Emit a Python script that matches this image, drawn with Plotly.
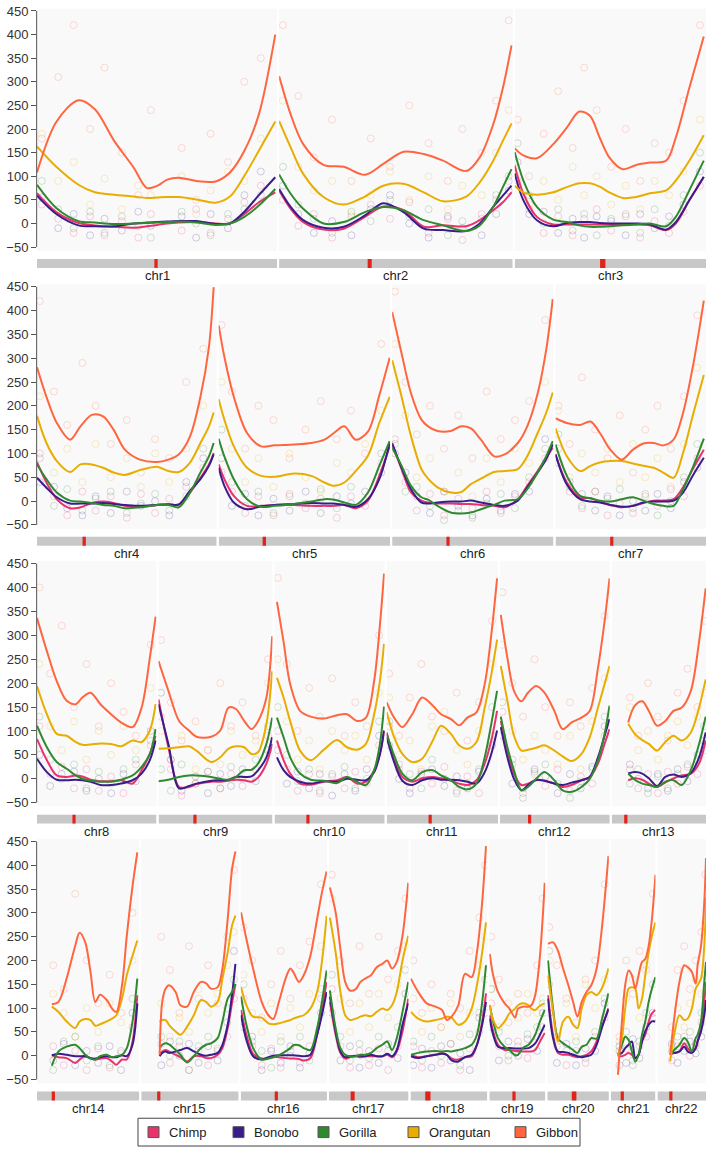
import plotly.graph_objects as go

CHROMS = ["chr%d" % i for i in range(1, 23)]
CHROM_LEN = [248.9, 242.2, 198.3, 190.2, 181.5, 170.8, 159.3, 145.1, 138.4, 133.8, 135.1,
             133.3, 114.4, 107.0, 102.0, 90.3, 83.3, 80.4, 58.6, 64.4, 46.7, 50.8]
CEN_START = [121.7, 91.8, 88.5, 48.2, 46.5, 58.5, 58.1, 44.0, 43.0, 39.6, 51.1,
             34.7, 16.0, 16.0, 17.0, 36.3, 22.7, 15.4, 24.4, 25.6, 10.9, 12.9]
CEN_END = [125.1, 96.0, 94.0, 51.7, 50.1, 59.8, 61.0, 45.9, 45.5, 41.6, 54.4,
           37.2, 18.1, 18.2, 19.7, 38.3, 26.9, 20.9, 27.2, 30.4, 13.0, 15.1]
ROWS = [[0, 1, 2], [3, 4, 5, 6], [7, 8, 9, 10, 11, 12], [13, 14, 15, 16, 17, 18, 19, 20, 21]]

# ---------------- smoothed curves ----------------
POS = [
    [0, 20, 43, 60, 80, 100, 114, 125, 135, 147, 165, 185, 200, 215, 230, 247],
    [0, 12, 25, 46, 67, 89, 108, 129, 150, 170, 194, 208, 222, 232, 241],
    [0, 9, 23, 40, 54, 67, 78, 88, 98, 112, 126, 140, 157, 167, 181, 196],
    [0, 10, 21, 35, 46, 58, 70, 81, 93, 109, 127, 139, 150, 162, 173, 182, 187],
    [0, 6, 16, 30, 45, 59, 80, 98, 112, 122, 133, 145, 158, 170, 181],
    [0, 10, 20, 31, 38, 48, 62, 73, 83, 94, 108, 119, 133, 143, 154, 163, 170],
    [0, 12, 26, 37, 47, 58, 70, 82, 93, 104, 114, 125, 135, 146, 157],
    [0, 12, 24, 36, 47, 55, 65, 77, 90, 102, 116, 127, 137, 144],
    [0, 12, 25, 37, 46, 64, 75, 85, 94, 104, 113, 121, 131, 138],
    [3, 11, 19, 31, 44, 60, 76, 88, 100, 111, 121, 128, 133],
    [0, 9, 19, 31, 43, 56, 66, 78, 88, 98, 109, 119, 127, 134],
    [1, 9, 17, 26, 34, 44, 54, 66, 76, 87, 99, 109, 119, 127, 133],
    [20, 28, 37, 45, 55, 65, 75, 85, 96, 106, 114],
    [15.5, 22.5, 31, 40, 44.6, 50.5, 56, 61, 66, 73, 78.6, 83, 89, 94, 100, 105],
    [19.3, 22, 25.6, 29, 36, 41, 48, 55, 62.5, 68, 73, 80, 85, 90.5, 95, 98.6],
    [0.4, 6, 13, 22, 29, 34, 40, 47, 52, 55, 61, 66, 73, 80, 85, 90],
    [1, 7, 12, 17, 22, 28, 33, 38, 44, 50, 56, 61, 66, 71, 77, 83],
    [0.4, 8, 17, 26, 33, 38, 43, 50, 57, 64, 69.5, 75, 79],
    [0.4, 4, 9, 16, 21, 27, 30, 35, 41, 44, 48, 53, 58],
    [0.7, 6, 11, 16.5, 22, 27, 31.6, 36, 41, 46, 51.6, 57, 64],
    [7.4, 11.6, 15, 18.6, 22, 25.6, 29, 32.6, 36, 39.6, 43, 46.7],
    [13.3, 17.5, 23, 28, 31.6, 36, 40, 42, 45.6, 49, 50.8],
]

GIBBON = [
    [108, 215, 261, 242, 175, 119, 75, 80, 93, 97, 90, 89, 108, 154, 231, 400],
    [312, 231, 168, 124, 120, 103, 126, 152, 147, 133, 111, 140, 210, 287, 377],
    [159, 144, 138, 168, 203, 237, 228, 182, 140, 115, 124, 129, 133, 182, 287, 396],
    [281, 219, 164, 129, 157, 181, 178, 150, 108, 87, 82, 87, 98, 136, 219, 324, 449],
    [369, 303, 219, 143, 115, 117, 119, 122, 129, 143, 157, 129, 146, 222, 301],
    [397, 310, 226, 171, 157, 147, 147, 157, 153, 129, 94, 98, 122, 157, 226, 317, 424],
    [174, 164, 160, 167, 143, 108, 87, 108, 121, 122, 117, 129, 185, 289, 421],
    [336, 267, 204, 163, 156, 170, 180, 156, 135, 118, 108, 149, 253, 339],
    [246, 184, 121, 101, 88, 88, 101, 149, 146, 121, 104, 121, 170, 298],
    [370, 287, 198, 142, 130, 126, 133, 135, 121, 128, 205, 322, 429],
    [160, 128, 108, 135, 170, 153, 135, 125, 112, 128, 139, 198, 301, 419],
    [343, 253, 184, 162, 180, 194, 180, 142, 104, 118, 128, 142, 232, 329, 419],
    [118, 153, 162, 142, 111, 121, 142, 149, 184, 287, 398],
    [108, 113, 162, 231, 258, 238, 176, 113, 128, 117, 99, 92, 148, 252, 356, 427],
    [2, 113, 141, 148, 134, 106, 103, 134, 155, 152, 141, 144, 183, 287, 391, 429],
    [301, 245, 183, 113, 85, 77, 113, 162, 183, 176, 155, 169, 210, 287, 342, 387],
    [353, 301, 224, 155, 137, 140, 155, 162, 169, 186, 193, 200, 183, 197, 252, 363],
    [162, 134, 110, 103, 96, 75, 82, 106, 172, 165, 217, 322, 440],
    [214, 169, 134, 110, 99, 80, 99, 103, 103, 106, 127, 210, 363],
    [235, 238, 221, 183, 148, 113, 82, 113, 134, 148, 183, 266, 419],
    [-40, 72, 148, 179, 169, 141, 169, 197, 203, 231, 287, 380],
    [2, 78, 155, 190, 186, 176, 151, 190, 231, 322, 415],
]

ORANGUTAN = [
    [163, 120, 82, 66, 61, 57, 54, 55, 56, 56, 51, 44, 57, 101, 154, 216],
    [217, 161, 105, 56, 40, 57, 80, 84, 66, 47, 57, 87, 133, 175, 212],
    [80, 66, 61, 66, 77, 85, 85, 78, 66, 54, 56, 64, 70, 91, 133, 187],
    [179, 122, 84, 61, 77, 77, 70, 60, 55, 65, 72, 63, 61, 81, 122, 157, 186],
    [214, 171, 115, 70, 53, 51, 58, 53, 39, 32, 39, 63, 95, 164, 219],
    [296, 219, 136, 67, 47, 29, 18, 19, 35, 47, 61, 63, 67, 94, 143, 185, 228],
    [153, 94, 63, 74, 81, 84, 84, 79, 74, 70, 60, 49, 101, 185, 265],
    [194, 135, 94, 90, 77, 71, 72, 74, 73, 68, 80, 77, 101, 156],
    [63, 64, 66, 68, 59, 35, 45, 63, 68, 66, 52, 56, 115, 225],
    [211, 170, 121, 59, 39, 61, 81, 66, 61, 73, 135, 205, 282],
    [139, 87, 52, 35, 42, 80, 111, 94, 70, 63, 77, 149, 218, 291],
    [236, 163, 90, 59, 61, 65, 70, 59, 47, 37, 52, 87, 149, 198, 236],
    [115, 94, 81, 73, 59, 77, 90, 80, 97, 149, 208],
    [103, 92, 72, 58, 72, 77, 75, 63, 66, 72, 78, 85, 120, 169, 210, 242],
    [71, 75, 75, 65, 51, 44, 61, 85, 117, 113, 103, 113, 162, 217, 273, 294],
    [144, 106, 82, 80, 68, 66, 68, 72, 75, 78, 82, 85, 99, 134, 197, 294],
    [290, 217, 134, 85, 75, 78, 82, 85, 83, 92, 99, 96, 106, 134, 200, 252],
    [92, 78, 72, 75, 78, 82, 80, 65, 72, 99, 148, 217, 280],
    [106, 75, 58, 72, 89, 99, 106, 110, 106, 99, 96, 105, 110],
    [169, 92, 30, 72, 82, 65, 58, 99, 127, 134, 127, 141, 183],
    [-1, 37, 99, 141, 144, 141, 99, 120, 169, 217, 252, 280],
    [-12, 44, 85, 75, 78, 99, 141, 148, 162, 231, 332],
]

GORILLA = [
    [82, 33, 5, 2, -1, 0, 1, 2, 3, 4, 2, -3, 0, 14, 38, 73],
    [104, 63, 31, 0, 3, 24, 35, 28, 7, -4, -16, -4, 35, 77, 115],
    [151, 91, 35, 8, 3, -4, -7, -7, -6, -4, -2, 0, -6, 14, 70, 133],
    [77, 46, 18, 1, -1, -4, -8, -10, -15, -13, -8, -8, -13, 18, 60, 94, 122],
    [131, 94, 46, 4, -12, -10, -6, -1, 4, 3, -3, -8, 18, 74, 126],
    [112, 74, 32, 8, 3, -10, -24, -26, -24, -17, -8, 1, 4, 25, 60, 94, 126],
    [119, 53, 11, 6, 1, -1, 4, 8, 1, -6, -10, -10, 25, 74, 131],
    [111, 66, 35, 21, 7, 0, -4, -6, -6, -2, 7, 25, 52, 104],
    [-5, -2, 4, 7, 7, 4, 0, -2, 4, 18, 19, 32, 73, 128],
    [128, 87, 45, 11, -2, -4, -9, 4, -6, -13, 18, 73, 151],
    [94, 49, 11, -3, 14, 18, 7, -3, -17, -22, -10, 45, 115, 184],
    [130, 66, 18, -24, -17, 0, 14, -3, -24, -27, -17, 0, 39, 94, 153],
    [11, -2, -10, -13, -17, -6, -3, -13, 18, 73, 130],
    [-21, 9, 19, 23, 16, 2, -6, -8, -1, 2, -3, -1, 2, 16, 72, 162],
    [16, 23, 26, 24, 12, 2, -14, -1, 16, 23, 26, 37, 72, 120, 134, 151],
    [124, 65, 16, -8, -6, -3, 1, 9, 16, 22, 22, 16, 12, 58, 113, 179],
    [137, 58, 16, 2, -1, -1, 2, 2, 6, 16, 23, 30, 12, 37, 92, 155],
    [2, 6, 9, 10, 9, 10, 9, 12, 16, 23, 44, 113, 190],
    [106, 72, 37, 19, 12, 1, 2, 16, 23, 30, 44, 72, 96],
    [200, 99, 37, 26, 19, 12, 6, 19, 23, 37, 36, 75, 131],
    [2, 23, 40, 33, 9, -12, 2, 44, 72, 113, 141, 165],
    [2, 12, 23, 37, 30, 9, 37, 44, 72, 155, 197],
]

CHIMP = [
    [64, 24, 1, -4, -7, -9, -6, -3, 0, 2, 3, 0, 0, 20, 45, 66],
    [70, 31, 3, -13, -11, 14, 36, 28, -7, -4, -6, 7, 28, 45, 66],
    [122, 63, 14, -2, -2, -2, -2, -2, -2, -2, -2, -4, -14, 0, 49, 98],
    [82, 39, 4, -15, -13, -4, -1, -4, -10, -12, -8, -6, -8, 18, 49, 77, 101],
    [77, 46, 11, -10, -10, -8, -8, -10, -10, -10, -8, -15, 1, 53, 115],
    [119, 67, 18, 1, -3, -5, -5, -6, -6, -8, -10, -13, 4, 32, 63, 91, 112],
    [98, 39, 8, 6, -1, -8, -13, -10, -4, 1, 1, 4, 29, 70, 108],
    [83, 39, 7, 4, 7, 5, -2, -5, -5, -3, -10, 18, 52, 90],
    [166, 66, -17, -17, -11, -6, -6, -4, -2, -3, -6, 3, 32, 73],
    [80, 39, 11, -10, -12, -6, -3, 4, -10, -6, 18, 52, 99],
    [97, 39, 4, -6, 1, 4, 1, -4, -10, -13, -3, 32, 80, 142],
    [121, 59, 11, -13, -10, -3, -4, -10, -17, -13, -3, 4, 32, 73, 104],
    [-3, 1, -2, -10, -17, -8, 1, 7, 11, 32, 80],
    [1, -3, -5, -15, -8, -1, -5, -8, -6, -5, -12, -19, -8, -8, 30, 127],
    [2, 9, 12, 9, 2, -3, -12, -1, -1, -5, -5, 2, 16, 58, 110, 150],
    [96, 44, 4, -6, -5, -3, -3, -5, -6, -6, -7, -10, -5, 44, 99, 155],
    [113, 44, 6, -6, -3, -1, -3, -1, -1, -1, -1, 2, -3, 9, 51, 120],
    [1, -3, -1, 2, 6, 2, -6, -8, -3, -1, 23, 72, 131],
    [85, 51, 23, 12, 12, 10, 10, 9, 9, 9, 12, 30, 48],
    [127, 44, 6, 2, 2, -1, -3, -1, 2, 9, 30, 61, 96],
    [-1, -1, 2, 6, 2, -5, 2, 30, 44, 72, 89, 96],
    [2, 6, 9, 26, 16, 8, 16, 30, 58, 113, 155],
]

BONOBO = [
    [59, 20, -4, -6, -6, 0, 2, 3, 4, 5, 5, -1, 0, 25, 60, 98],
    [73, 35, 7, -9, -7, 17, 43, 24, -11, -14, -16, 0, 35, 59, 80],
    [106, 49, 7, -6, 1, 3, 3, 1, 0, 0, 0, -2, -13, 3, 49, 99],
    [49, 28, 8, -5, -5, -5, -4, -6, -8, -10, -8, -7, -7, 22, 46, 74, 98],
    [70, 32, -3, -17, -11, -8, -6, -4, -5, -5, -8, -12, 4, 46, 122],
    [122, 70, 25, -3, -5, -3, -1, -1, 1, -3, -8, -10, 1, 29, 60, 88, 119],
    [98, 35, 4, -1, -3, -8, -12, -10, -3, -1, -1, 1, 18, 56, 91],
    [42, 14, -2, -3, -2, -3, -6, -13, -13, -10, -3, 11, 39, 80],
    [156, 73, -20, -15, -10, -4, -3, -2, 4, 4, 5, 18, 45, 87],
    [45, 18, 4, -6, -10, -5, -6, 0, -2, -3, 14, 52, 101],
    [87, 35, -4, -13, -3, 1, -2, -2, -3, -6, -10, 14, 52, 101],
    [108, 45, 0, -24, -13, -2, -4, -10, -13, -8, -3, 4, 45, 90, 125],
    [11, 14, 11, 1, -15, 4, 9, 4, 12, 45, 97],
    [1, 4, 2, -1, -1, -1, -5, -6, -3, -1, -3, -3, 1, -1, 23, 110],
    [-1, 6, 9, 6, 9, 12, 16, 9, 2, 0, 2, 6, 23, 65, 127, 193],
    [85, 33, -1, -8, -3, 0, 1, 1, 1, 1, 0, -1, 2, 44, 85, 134],
    [124, 51, 9, -3, -1, 0, 0, -1, 2, -1, -1, 4, -1, 12, 65, 110],
    [-1, -5, -1, 2, 4, 2, -10, -12, -3, 2, 23, 65, 113],
    [78, 44, 19, 16, 16, 15, 15, 15, 16, 19, 26, 44, 65],
    [120, 37, 9, 8, 6, 2, -1, -3, -1, 2, 23, 58, 99],
    [2, 6, 16, 23, 30, -5, 2, 30, 51, 65, 72, 72],
    [12, 6, 9, 19, 9, 6, 16, 30, 51, 85, 117],
]

# ---------------- per-window points (faint circles) ----------------
PT_X = [
    [5, 22, 38, 55, 70, 88, 105, 118, 150, 165, 180, 198, 215, 232],
    [4, 20, 36, 55, 75, 95, 115, 135, 155, 175, 190, 210, 225, 238],
    [3, 15, 30, 45, 60, 72, 85, 100, 115, 130, 145, 160, 175, 192],
    [3, 18, 32, 48, 62, 78, 95, 110, 125, 140, 158, 176],
    [3, 14, 28, 42, 58, 75, 92, 108, 125, 140, 155, 172],
    [3, 14, 26, 40, 55, 70, 85, 100, 115, 130, 145, 162],
    [3, 15, 28, 42, 55, 68, 82, 95, 108, 122, 136, 150],
    [3, 16, 30, 45, 60, 75, 90, 105, 120, 138],
    [3, 15, 28, 45, 60, 75, 88, 102, 118, 133],
    [4, 15, 28, 42, 55, 70, 85, 98, 112, 127],
    [3, 15, 28, 42, 55, 70, 85, 98, 112, 128],
    [3, 15, 28, 42, 55, 70, 85, 98, 112, 127],
    [22, 32, 44, 56, 68, 80, 92, 104, 112],
    [17, 28, 40, 52, 64, 76, 88, 100],
    [21, 30, 40, 50, 60, 70, 80, 90, 97],
    [3, 12, 22, 32, 42, 52, 62, 72, 84],
    [3, 12, 22, 32, 42, 52, 62, 72, 80],
    [3, 12, 22, 32, 42, 52, 62, 72, 78],
    [2, 10, 20, 30, 40, 50, 56],
    [2, 10, 20, 30, 40, 50, 60],
    [9, 16, 23, 30, 37, 44],
    [15, 21, 28, 34, 40, 46, 50],
]
PT_CHIMP = [
    [40, 10, -20, 15, -25, 5, -30, 20, -15, 30, -20, 10, 45, 80],
    [50, -5, 20, -30, 15, 40, 10, 45, -20, 10, -35, 20, 50, 90],
    [90, 30, -20, 15, -25, 10, 30, -15, 20, -30, 5, -20, 25, 80],
    [100, 10, -30, 20, -20, 10, -35, 15, -25, 5, 30, 70],
    [60, 20, -25, 10, -30, 15, -15, 5, -35, 10, -10, 80],
    [130, 40, -20, 15, -30, 5, -15, 20, -25, 10, 40, 90],
    [110, 20, -15, 20, -30, -5, -25, 10, -10, 25, 10, 90],
    [110, 10, 25, -20, 20, -25, 5, -30, 30, 70],
    [130, 20, -35, -10, 15, -20, 10, -15, 20, 90],
    [100, 20, -25, 10, -30, 5, -20, 15, -10, 70],
    [110, 20, -20, 15, -10, 25, -25, 5, -30, 90],
    [140, 30, -30, 10, -15, 20, -25, 5, -10, 90],
    [20, -20, 10, -30, 15, -10, 25, 10, 60],
    [20, -20, 10, -30, 15, -25, 5, 60],
    [25, -15, 20, -30, 10, -20, 15, 40, 120],
    [120, 20, -20, 15, -25, 10, -15, 20, 120],
    [140, 20, -25, 10, -20, 15, -30, 20, 90],
    [20, -25, 10, -15, 25, -30, 15, 50, 110],
    [110, 20, -10, 30, -5, 40, 60],
    [150, 20, -20, 10, -15, 40, 80],
    [-20, 15, -10, 20, 40, 80],
    [-10, 20, 40, 0, 25, 70, 130],
]
PT_BONOBO = [
    [55, -10, 20, -25, 10, -15, 25, -5, 15, -30, 20, -10, 60, 110],
    [80, 20, -20, 5, -25, 30, 60, 0, -30, 15, -10, -25, 20, 70],
    [130, 20, 25, -20, 10, -30, 15, 5, -25, 20, -10, 15, 40, 110],
    [40, 30, -15, -30, 10, -25, 20, -10, 0, -30, 40, 90],
    [90, -10, 15, -30, 5, -20, 20, -25, 10, -5, 20, 60],
    [100, 60, 10, -25, 20, -10, -30, 5, -20, 15, 20, 130],
    [80, 40, 15, -20, 10, -30, 0, -20, 15, -15, 40, 70],
    [50, -15, 10, 15, -25, 0, -30, 10, -5, 100],
    [180, 40, -25, 5, -30, 10, -15, 20, -5, 60],
    [60, -10, 15, -20, 10, -35, 10, -25, 20, 90],
    [70, 0, -30, 10, 20, -15, 5, -20, 15, 70],
    [90, -10, -20, 20, 5, -30, 10, -20, 25, 110],
    [30, 0, -20, 10, -25, 20, -5, 50, 80],
    [-10, 25, -20, 10, -15, 20, -30, 90],
    [-20, 30, 0, 25, -15, 20, -10, 70, 220],
    [60, 40, -30, 10, -15, 20, -25, 5, 90],
    [90, -10, 20, -25, 10, -15, 25, -5, 130],
    [-20, 15, -25, 20, -10, 5, -30, 80, 90],
    [60, -10, 30, 0, 35, 10, 90],
    [90, -15, 25, -20, 15, 10, 110],
    [20, -15, 35, -5, 60, 90],
    [25, -15, 10, 30, 5, 40, 100],
]
PT_GORILLA = [
    [90, 30, -10, 25, -20, 15, -5, -30, 25, 0, -25, 20, 30, 60],
    [120, 40, 10, -20, 25, 5, 50, 15, 30, -25, 5, 10, 60, 100],
    [170, 60, 0, 30, -15, 20, -25, 10, 15, -20, 30, -5, 60, 150],
    [90, -10, 25, -20, 5, 20, -25, -5, 15, -20, 10, 110],
    [150, 40, -10, 20, -25, 10, -5, 25, -15, 30, 0, 100],
    [120, 20, 30, -10, -40, -20, -35, -5, 15, -15, 50, 110],
    [140, 30, -10, 20, 5, 25, -15, 15, -30, 0, 50, 120],
    [130, 40, 0, 30, -20, 15, -10, 20, 40, 80],
    [20, -25, 30, -10, 15, -20, 25, 0, 40, 110],
    [150, 50, -5, 20, -25, 10, 25, -20, 0, 120],
    [120, 30, 10, -20, 40, 0, -30, -10, 20, 150],
    [160, 40, -40, 15, 30, -10, -40, -5, 20, 130],
    [-10, 20, -30, 5, -20, 10, 30, 40, 110],
    [-30, 30, 40, -10, 20, -20, 10, 120],
    [40, 0, 30, -30, 20, 40, 10, 100, 160],
    [150, 30, 10, -25, 30, 0, 40, -10, 140],
    [170, 40, -10, 25, -5, 40, 10, 60, 180],
    [30, -10, 40, 0, 25, -20, 45, 90, 160],
    [140, 50, 0, 20, 45, 60, 110],
    [220, 40, 10, 30, -5, 50, 120],
    [10, 50, -20, 30, 90, 150],
    [10, 40, 20, 50, 20, 90, 170],
]
PT_ORANGUTAN = [
    [190, 90, 130, 40, 95, 30, 80, 60, 100, 20, 70, 110, 90, 180],
    [260, 120, 70, 90, 20, 60, 110, 50, 100, 30, 80, 60, 150, 240],
    [110, 40, 90, 50, 120, 60, 100, 40, 80, 30, 90, 60, 110, 220],
    [220, 60, 110, 40, 120, 50, 90, 30, 100, 40, 110, 200],
    [250, 110, 40, 90, 30, 100, 50, 20, 80, 60, 120, 190],
    [330, 180, 50, 90, 20, 60, 10, 90, 40, 110, 80, 250],
    [190, 50, 100, 60, 110, 40, 120, 50, 90, 30, 120, 280],
    [240, 110, 60, 120, 40, 100, 50, 110, 60, 190],
    [100, 40, 90, 20, 60, 30, 100, 50, 80, 200],
    [250, 120, 40, 80, 20, 100, 60, 90, 40, 180],
    [170, 50, 80, 20, 110, 140, 60, 30, 100, 240],
    [280, 100, 40, 90, 60, 30, 90, 20, 120, 210],
    [150, 60, 100, 40, 90, 120, 70, 130, 180],
    [130, 90, 40, 100, 50, 110, 70, 200],
    [110, 40, 80, 50, 140, 90, 130, 190, 260],
    [170, 90, 50, 110, 40, 100, 60, 130, 230],
    [330, 120, 50, 110, 60, 130, 80, 150, 230],
    [120, 50, 100, 60, 110, 40, 90, 190, 250],
    [140, 60, 110, 80, 130, 90, 120],
    [200, 30, 110, 40, 150, 100, 160],
    [30, 120, 160, 80, 190, 260],
    [20, 100, 60, 110, 160, 130, 280],
]
PT_GIBBON = [
    [180, 310, 420, 200, 330, 150, 60, 240, 160, 50, 190, 130, 300, 350],
    [420, 270, 140, 220, 90, 180, 120, 250, 170, 90, 200, 150, 260, 430],
    [220, 100, 190, 280, 160, 330, 240, 120, 200, 90, 170, 150, 260, 420],
    [420, 230, 160, 290, 200, 120, 170, 60, 130, 90, 250, 320],
    [370, 230, 110, 200, 170, 90, 150, 210, 130, 190, 100, 330],
    [440, 250, 140, 200, 110, 180, 90, 230, 130, 170, 210, 380],
    [200, 120, 260, 150, 90, 180, 60, 150, 200, 110, 220, 390],
    [400, 220, 320, 150, 240, 110, 200, 140, 90, 280],
    [290, 160, 80, 120, 60, 200, 110, 160, 90, 250],
    [420, 240, 100, 190, 130, 210, 90, 160, 110, 300],
    [220, 90, 170, 240, 130, 100, 180, 80, 160, 330],
    [390, 200, 130, 250, 150, 90, 160, 110, 190, 340],
    [170, 90, 200, 130, 80, 180, 230, 150, 330],
    [190, 140, 340, 200, 110, 170, 90, 300],
    [250, 180, 90, 230, 120, 190, 110, 250, 390],
    [270, 200, 80, 150, 220, 120, 190, 240, 360],
    [380, 200, 110, 230, 130, 250, 160, 220, 330],
    [200, 90, 150, 60, 130, 100, 220, 290, 400],
    [250, 160, 70, 130, 90, 190, 330],
    [270, 190, 120, 70, 160, 200, 360],
    [40, 200, 130, 220, 180, 340],
    [60, 180, 230, 140, 200, 260, 380],
]

SPECIES = ["Chimp", "Bonobo", "Gorilla", "Orangutan", "Gibbon"]
SERIES = [CHIMP, BONOBO, GORILLA, ORANGUTAN, GIBBON]
POINTS = [PT_CHIMP, PT_BONOBO, PT_GORILLA, PT_ORANGUTAN, PT_GIBBON]
COLORS = ["#e8336d", "#3a1d8a", "#2f8a2f", "#e8ad00", "#ff6640"]
Y_TICKS = [-50, 0, 50, 100, 150, 200, 250, 300, 350, 400, 450]

# ---------------- layout geometry (pixels) ----------------
W, H = 708, 1153
LEFT, RIGHT, GAP = 37, 706, 2
Y450 = [6, 284, 563, 843]
YM50 = [244, 524, 804, 1083]
Y_RANGE = [-58, 455]
FONT = "Liberation Sans, Arial, sans-serif"

fig = go.Figure()
layout = dict(width=W, height=H, margin=dict(l=0, r=0, t=0, b=0),
              paper_bgcolor="white", plot_bgcolor="#f9f9f9", showlegend=False,
              font=dict(family=FONT, size=13, color="#222"))
shapes, annotations = [], []

k = 0
for r, idxs in enumerate(ROWS):
    ppu = (YM50[r] - Y450[r]) / 500.0
    top = Y450[r] - (Y_RANGE[1] - 450) * ppu
    bot = YM50[r] + (-50 - Y_RANGE[0]) * ppu
    yname = "y" if r == 0 else "y%d" % (r + 1)
    ykey = "yaxis" if r == 0 else "yaxis%d" % (r + 1)
    total = sum(CHROM_LEN[i] for i in idxs)
    scale = (RIGHT - LEFT - GAP * (len(idxs) - 1)) / total
    first_x = "x%d" % (k + 1) if k > 0 else "x"
    layout[ykey] = dict(domain=[1 - bot / H, 1 - top / H], range=Y_RANGE, anchor=first_x,
                        tickvals=Y_TICKS, ticks="outside", ticklen=5, tickcolor="#555",
                        tickwidth=1, showgrid=False, zeroline=False, showline=False,
                        tickfont=dict(size=13, color="#333", family=FONT))
    shapes.append(dict(type="line", xref="paper", yref=yname, x0=LEFT / W - 0.0005, x1=LEFT / W - 0.0005,
                       y0=-50, y1=450, line=dict(color="#555", width=1)))
    bar_top = YM50[r] + 12
    bar_bot = bar_top + 9
    x = LEFT
    for i in idxs:
        k += 1
        xname = "x" if k == 1 else "x%d" % k
        xkey = "xaxis" if k == 1 else "xaxis%d" % k
        w = CHROM_LEN[i] * scale
        layout[xkey] = dict(domain=[x / W, (x + w) / W], range=[0, CHROM_LEN[i]],
                            anchor=yname, visible=False, showgrid=False, zeroline=False)
        # faint per-window points first (underneath)
        for s in [4, 3, 2, 0, 1]:
            fig.add_trace(go.Scatter(x=PT_X[i], y=POINTS[s][i], mode="markers", name=SPECIES[s],
                                     marker=dict(symbol="circle-open", size=7, color=COLORS[s],
                                                 line=dict(width=1), opacity=0.22),
                                     xaxis=xname, yaxis=yname, hoverinfo="skip", showlegend=False,
                                     cliponaxis=True))
        for s, (name, data) in enumerate(zip(SPECIES, SERIES)):
            fig.add_trace(go.Scatter(x=POS[i], y=data[i], mode="lines", name=name,
                                     line=dict(color=COLORS[s], width=2, shape="spline", smoothing=0.9),
                                     xaxis=xname, yaxis=yname, hoverinfo="skip", showlegend=False))
        shapes.append(dict(type="rect", xref=xname, yref="paper", x0=0, x1=CHROM_LEN[i],
                           y0=1 - bar_bot / H, y1=1 - bar_top / H, fillcolor="#c8c8c8",
                           line=dict(width=0), layer="above"))
        cen_w = max(CEN_END[i] - CEN_START[i], 3.2 / scale)
        cen_mid = (CEN_START[i] + CEN_END[i]) / 2
        shapes.append(dict(type="rect", xref=xname, yref="paper", x0=cen_mid - cen_w / 2,
                           x1=cen_mid + cen_w / 2, y0=1 - bar_bot / H, y1=1 - bar_top / H,
                           fillcolor="#e2231a", line=dict(width=0), layer="above"))
        annotations.append(dict(xref=xname, yref="paper", x=CHROM_LEN[i] / 2,
                                y=1 - (bar_bot + 8) / H, text=CHROMS[i], showarrow=False,
                                font=dict(size=13, color="#222", family=FONT),
                                xanchor="center", yanchor="middle"))
        x += w + GAP

# ---------------- legend (drawn manually) ----------------
LEG_BOX = (138, 1122, 580, 1150)
LEG_SQ_X = [148, 233, 318, 408, 515]
shapes.append(dict(type="rect", xref="paper", yref="paper", x0=LEG_BOX[0] / W, x1=LEG_BOX[2] / W,
                   y0=1 - LEG_BOX[3] / H, y1=1 - LEG_BOX[1] / H, line=dict(color="#444", width=1),
                   fillcolor="white"))
for s, name in enumerate(SPECIES):
    sx = LEG_SQ_X[s]
    cy = (LEG_BOX[1] + LEG_BOX[3]) / 2
    shapes.append(dict(type="rect", xref="paper", yref="paper", x0=sx / W, x1=(sx + 11) / W,
                       y0=1 - (cy + 5.5) / H, y1=1 - (cy - 5.5) / H, fillcolor=COLORS[s],
                       line=dict(color="#555", width=1)))
    annotations.append(dict(xref="paper", yref="paper", x=(sx + 19) / W, y=1 - cy / H, text=name,
                            showarrow=False, xanchor="left", yanchor="middle",
                            font=dict(size=13, color="#222", family=FONT)))

layout["shapes"] = shapes
layout["annotations"] = annotations
fig.update_layout(**layout)
fig.write_html("out.html", config={"displayModeBar": False},
               post_script="document.body.style.margin='0';")
